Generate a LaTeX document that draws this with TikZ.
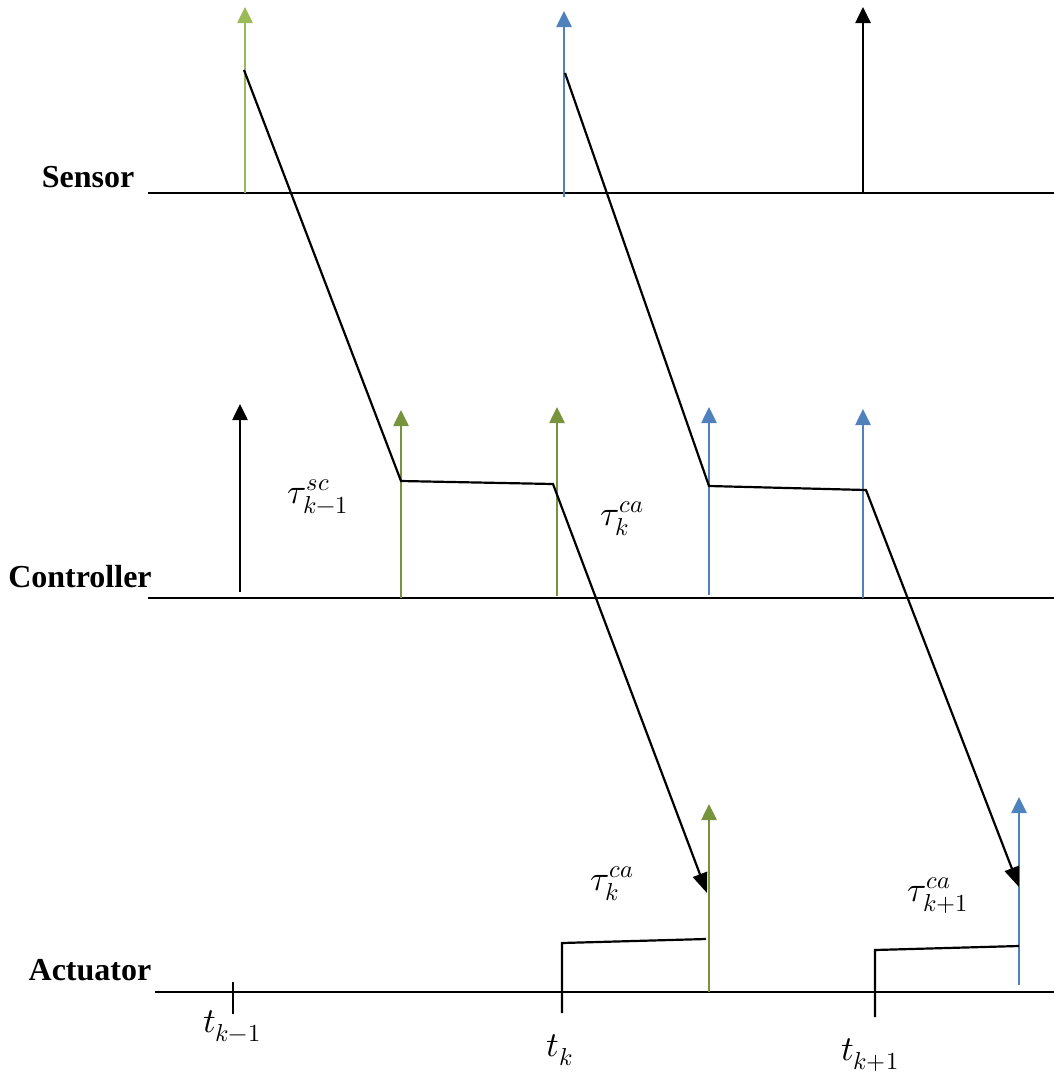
\documentclass[tikz,border=0pt]{standalone}
\usepackage{unicode-math}
\setmainfont{Liberation Serif}
\setmathfont{Latin Modern Math}
\usetikzlibrary{arrows.meta}
\definecolor{lgreen}{HTML}{9BBB59}
\definecolor{dgreen}{HTML}{77933C}
\definecolor{mblue}{HTML}{4F81BD}
\begin{document}
\begin{tikzpicture}[x=1pt,y=-1pt,
  axis/.style={line width=2.2pt,black},
  pulse/.style={line width=2.6pt,-{Triangle[width=15pt,length=16pt]}},
  msg/.style={line width=2.2pt,black,line join=miter},
  msgarrow/.style={msg,-{Triangle[width=15pt,length=20pt]}},
  lane/.style={font=\fontsize{32}{38}\selectfont\bfseries,inner sep=0pt},
  lbl/.style={font=\fontsize{35}{40}\selectfont,inner sep=0pt},
  tick/.style={line width=2.2pt,black}]
\useasboundingbox (0,0) rectangle (1054,1072);
% lane labels
\node[lane] (sen) at (88,177) {Sensor};
\node[lane] (con) at (80,577) {Controller};
\node[lane] (act) at (90,970) {Actuator};
% axes
\coordinate (s0) at (148,193); \coordinate (s1) at (1054,193);
\coordinate (c0) at (148,598); \coordinate (c1) at (1054,598);
\coordinate (a0) at (155,992); \coordinate (a1) at (1054,992);
\draw[axis] (s0) -- (s1);
\draw[axis] (c0) -- (c1);
\draw[axis] (a0) -- (a1);
% sensor pulses
\coordinate (sp1b) at (245,193); \coordinate (sp1t) at (245,7);
\coordinate (sp2b) at (564,197); \coordinate (sp2t) at (564,11);
\coordinate (sp3b) at (863,193); \coordinate (sp3t) at (863,7);
\draw[pulse,lgreen] (sp1b) -- (sp1t);
\draw[pulse,mblue] (sp2b) -- (sp2t);
\draw[pulse,black] (sp3b) -- (sp3t);
% controller pulses
\coordinate (cp0b) at (240,592); \coordinate (cp0t) at (240,404);
\coordinate (cp1b) at (401,598); \coordinate (cp1t) at (401,410);
\coordinate (cp2b) at (557,596); \coordinate (cp2t) at (557,407);
\coordinate (cp3b) at (709,595); \coordinate (cp3t) at (709,407);
\coordinate (cp4b) at (863,598); \coordinate (cp4t) at (863,409);
\draw[pulse,black] (cp0b) -- (cp0t);
\draw[pulse,dgreen] (cp1b) -- (cp1t);
\draw[pulse,dgreen] (cp2b) -- (cp2t);
\draw[pulse,mblue] (cp3b) -- (cp3t);
\draw[pulse,mblue] (cp4b) -- (cp4t);
% actuator pulses
\coordinate (ap1b) at (709,992); \coordinate (ap1t) at (709,804);
\coordinate (ap2b) at (1019,985); \coordinate (ap2t) at (1019,797);
\draw[pulse,dgreen] (ap1b) -- (ap1t);
\draw[pulse,mblue] (ap2b) -- (ap2t);
% messages
\coordinate (m1a) at (244,70); \coordinate (m1b) at (401,481);
\coordinate (m1c) at (553,484); \coordinate (m1d) at (707,893);
\draw[msgarrow] (m1a) -- (m1b) -- (m1c) -- (m1d);
\coordinate (m2a) at (565,73); \coordinate (m2b) at (709,486);
\coordinate (m2c) at (866,490); \coordinate (m2d) at (1019,887);
\draw[msgarrow] (m2a) -- (m2b) -- (m2c) -- (m2d);
% ticks and delay brackets on actuator
\coordinate (t0a) at (233,982); \coordinate (t0b) at (233,1014);
\draw[tick] (t0a) -- (t0b);
\coordinate (t1a) at (562,1013); \coordinate (t1b) at (562,943);
\coordinate (t1c) at (706,939);
\draw[tick] (t1a) -- (t1b) -- (t1c);
\coordinate (t2a) at (875,1017); \coordinate (t2b) at (875,950);
\coordinate (t2c) at (1019,946);
\draw[tick] (t2a) -- (t2b) -- (t2c);
% labels
\node[lbl] (l1) at (318,497) {$\tau^{sc}_{k-1}$};
\node[lbl] (l2) at (622,519) {$\tau^{ca}_{k}$};
\node[lbl] (l3) at (612,884) {$\tau^{ca}_{k}$};
\node[lbl] (l4) at (938,896) {$\tau^{ca}_{k+1}$};
\node[lbl] (l5) at (232,1026) {$t_{k-1}$};
\node[lbl] (l6) at (560,1050) {$t_{k}$};
\node[lbl] (l7) at (870,1055) {$t_{k+1}$};
\end{tikzpicture}
\end{document}
